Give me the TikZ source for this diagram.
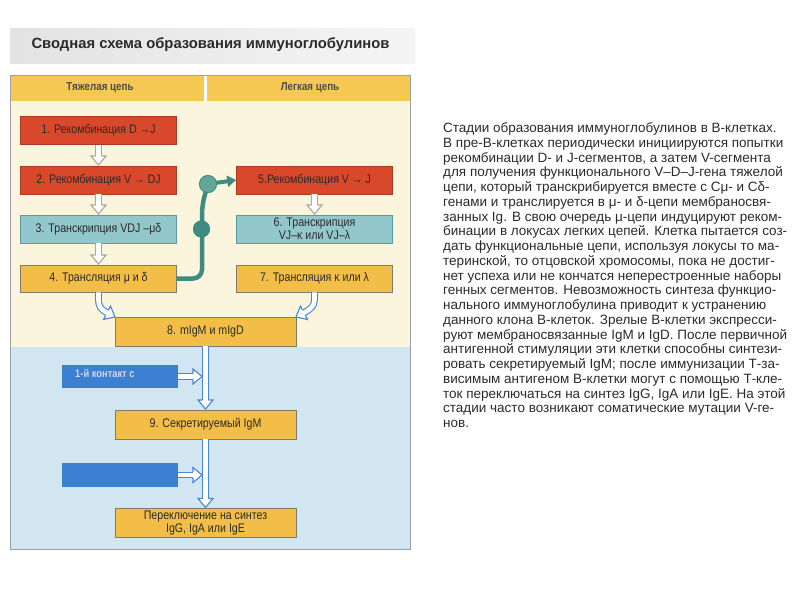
\documentclass[tikz,border=0pt]{standalone}
\usepackage{fontspec}
\setmainfont{Liberation Sans}
\newfontfamily\boxfont[FakeStretch=0.85]{Liberation Sans}
\usetikzlibrary{arrows.meta}
\definecolor{cream}{HTML}{FBF5DE}
\definecolor{skyb}{HTML}{D2E6F2}
\definecolor{hdr}{HTML}{F5C951}
\definecolor{redb}{HTML}{D9482A}
\definecolor{redd}{HTML}{A93A22}
\definecolor{tealb}{HTML}{92C8CB}
\definecolor{teald}{HTML}{5C9CA0}
\definecolor{yelb}{HTML}{F2BE48}
\definecolor{yeld}{HTML}{7F7C6A}
\definecolor{blueb}{HTML}{3C80D2}
\definecolor{arrb}{HTML}{4A86D0}
\definecolor{arrg}{HTML}{A8A8A0}
\definecolor{conn}{HTML}{3E8B82}
\definecolor{connl}{HTML}{62A898}
\definecolor{framec}{HTML}{9AA0A6}
\definecolor{ink}{HTML}{2B2B2B}
\tikzset{
  box/.style={rectangle, inner sep=2pt, align=center, text=ink,
    font=\boxfont\fontsize{12.5}{13}\selectfont, line width=0.6pt},
  redbox/.style={box, fill=redb, draw=redd, minimum width=156pt, minimum height=28pt},
  tealbox/.style={box, fill=tealb, draw=teald, minimum width=156pt, minimum height=28pt},
  yelbox/.style={box, fill=yelb, draw=yeld, minimum width=156pt, minimum height=27pt},
  widebox/.style={box, fill=yelb, draw=yeld, minimum width=181pt, minimum height=29pt},
  bluebox/.style={rectangle, fill=blueb, minimum width=116pt, minimum height=23pt, inner sep=0pt},
  hshaft/.style={double=white, double distance=4.6pt, line width=1.1pt},
  hhead/.pic={\path[pic actions, line width=1.1pt, line join=miter]
     (-9,2.85) -- (-9,7.5) -- (0,0) -- (-9,-7.5) -- (-9,-2.85);},
  hdrtext/.style={font=\boxfont\bfseries\fontsize{11.5}{13}\selectfont, text=ink!85}
}
\begin{document}
\begin{tikzpicture}[x=1pt,y=-1pt]
\useasboundingbox (0,0) rectangle (800,600);
\fill[white] (0,0) rectangle (800,600);
% title band
\shade[left color=gray!22, right color=gray!8] (10,28) rectangle (415,63);
\node[anchor=west, font=\bfseries\fontsize{14.8}{17}\selectfont, text=ink] (title) at (28,45)
  {Сводная схема образования иммуноглобулинов};
% backgrounds
\fill[cream] (10,101) rectangle (410,347);
\fill[skyb] (10,347) rectangle (410,549);
\fill[hdr] (10,75) rectangle (203.5,101);
\fill[hdr] (206.5,75) rectangle (410,101);
\draw[framec, line width=0.8pt] (10,75) rectangle (410,549);
\node[hdrtext] (h1) at (100,88) {Тяжелая цепь};
\node[hdrtext] (h2) at (310,88) {Легкая цепь};
% boxes
\node[redbox] (b1) at (98.5,130.5) {1. Рекомбинация D →J};
\node[redbox] (b2) at (98.5,180) {2. Рекомбинация V → DJ};
\node[tealbox] (b3) at (98.5,229) {3. Транскрипция VDJ –μδ};
\node[yelbox] (b4) at (98.5,278.5) {4. Трансляция μ и δ};
\node[redbox] (b5) at (314.5,180) {5.Рекомбинация V → J};
\node[tealbox, inner sep=1pt, font=\boxfont\fontsize{12.5}{11}\selectfont] (b6) at (314.5,229) {6. Транскрипция\\VJ–κ или VJ–λ};
\node[yelbox] (b7) at (314.5,278.5) {7. Трансляция κ или λ};
\node[widebox] (b8) at (205.5,331.5) {8. mIgM и mIgD};
\node[widebox] (b9) at (205.5,424.5) {9. Секретируемый IgM};
\node[widebox, font=\boxfont\fontsize{12.5}{13}\selectfont] (b10) at (205.5,523) {Переключение на синтез\\IgG, IgA или IgE};
\node[bluebox] (ba) at (120,376.5) {};
\node[bluebox, minimum height=24pt] (bb) at (120,475) {};
\node[anchor=west, inner sep=0pt, font=\boxfont\bfseries\fontsize{11}{12}\selectfont, text=blue!10!white!85!gray] (bat) at (75,373) {1-й контакт с};
% small grey hollow arrows
\coordinate (t12) at (98.5,165);
\draw[arrg, hshaft] (b1.south) -- (98.5,156);
\pic[draw=arrg, fill=white, rotate=-90] at (t12) {hhead};
\coordinate (t23) at (98.5,214);
\draw[arrg, hshaft] (b2.south) -- (98.5,205);
\pic[draw=arrg, fill=white, rotate=-90] at (t23) {hhead};
\coordinate (t34) at (98.5,264);
\draw[arrg, hshaft] (b3.south) -- (98.5,255);
\pic[draw=arrg, fill=white, rotate=-90] at (t34) {hhead};
\coordinate (t56) at (314.5,214);
\draw[arrg, hshaft] (b5.south) -- (314.5,205);
\pic[draw=arrg, fill=white, rotate=-90] at (t56) {hhead};
% curved arrows into box 8
\coordinate (t48) at (115,317);
\draw[arrb, hshaft] (b4.south) -- (98.5,300) .. controls (98.5,306) and (100.6,309.3) .. (107.1,312.8);
\pic[draw=arrb, fill=white, rotate=-28] at (t48) {hhead};
\coordinate (t78) at (296,317);
\draw[arrb, hshaft] (b7.south) -- (314.5,300) .. controls (314.5,306) and (310.4,309.3) .. (303.9,312.8);
\pic[draw=arrb, fill=white, rotate=-152] at (t78) {hhead};
% long vertical arrows
\coordinate (t89) at (205.5,409);
\draw[arrb, hshaft] (b8.south) -- (205.5,400);
\pic[draw=arrb, fill=white, rotate=-90] at (t89) {hhead};
\coordinate (t910) at (205.5,507.5);
\draw[arrb, hshaft] (b9.south) -- (205.5,498.5);
\pic[draw=arrb, fill=white, rotate=-90] at (t910) {hhead};
% horizontal arrows from blue boxes
\coordinate (tba) at (202,376.5);
\draw[arrb, hshaft] (ba.east) -- (193,376.5);
\pic[draw=arrb, fill=white] at (tba) {hhead};
\coordinate (tbb) at (202,475);
\draw[arrb, hshaft] (bb.east) -- (193,475);
\pic[draw=arrb, fill=white] at (tbb) {hhead};
% green connector
\node[circle, fill=conn, minimum size=17pt, inner sep=0pt] (c1) at (201.5,229) {};
\node[circle, fill=connl, draw=conn, line width=0.8pt, minimum size=17pt, inner sep=0pt] (c2) at (208,184) {};
\draw[conn, line width=4.5pt, rounded corners=9pt] (b4.east) -- (202,278.5) -- (202,205) -- (c2.center);
\draw[conn, line width=4pt, -{Triangle[length=9pt,width=11pt]}] (c2.center) -- (b5.west);
\node[circle, fill=conn, minimum size=17pt, inner sep=0pt] at (c1) {};
\node[circle, fill=connl, draw=conn, line width=0.8pt, minimum size=17pt, inner sep=0pt] at (c2) {};
% description text
\node[anchor=north west, inner sep=0pt, align=left, text=ink,
      font=\fontsize{13.5}{14.75}\selectfont] (txt) at (443,122.5) {%
Стадии образования иммуноглобулинов в В-клетках.\\
В пре-В-клетках периодически инициируются попытки\\
рекомбинации D- и J-сегментов, а затем V-сегмента\\
для получения функционального V–D–J-гена тяжелой\\
цепи, который транскрибируется вместе с Cμ- и Cδ-\\
генами и транслируется в μ- и δ-цепи мембраносвя-\\
занных Ig. В свою очередь μ-цепи индуцируют реком-\\
бинации в локусах легких цепей. Клетка пытается соз-\\
дать функциональные цепи, используя локусы то ма-\\
теринской, то отцовской хромосомы, пока не достиг-\\
нет успеха или не кончатся неперестроенные наборы\\
генных сегментов. Невозможность синтеза функцио-\\
нального иммуноглобулина приводит к устранению\\
данного клона В-клеток. Зрелые В-клетки экспресси-\\
руют мембраносвязанные IgM и IgD. После первичной\\
антигенной стимуляции эти клетки способны синтези-\\
ровать секретируемый IgM; после иммунизации Т-за-\\
висимым антигеном В-клетки могут с помощью Т-кле-\\
ток переключаться на синтез IgG, IgA или IgE. На этой\\
стадии часто возникают соматические мутации V-ге-\\
нов.};
\end{tikzpicture}
\end{document}
